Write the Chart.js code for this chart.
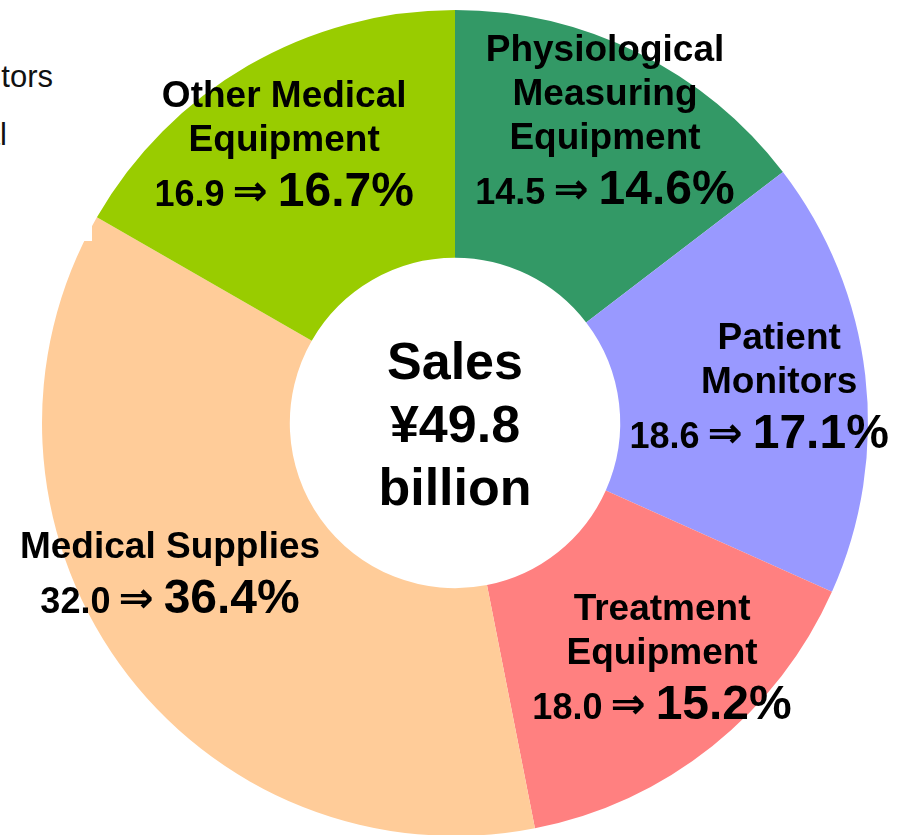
<!DOCTYPE html>
<html>
<head>
<meta charset="utf-8">
<script src="https://cdn.jsdelivr.net/npm/chart.js@4.4.1/dist/chart.umd.min.js"></script>
<style>
  html, body { margin: 0; padding: 0; background: #fff; overflow: hidden; }
  #wrap { position: absolute; left: 0; top: 0; width: 907px; height: 840px; }
  #legend { position: absolute; left: 0; top: 0; width: 92px; height: 241px; background: #fff; overflow: hidden; }
  #legend span { position: absolute; white-space: nowrap; font: 31px "Liberation Sans", Arial, sans-serif; line-height: 30px; color: #111; }
</style>
</head>
<body>
<div id="wrap"><canvas id="salesChart" width="907" height="840"></canvas></div>
<div id="legend"></div>
<script>
// segment names (one entry per text line), clockwise from the top
const categories = [
    ['Physiological', 'Measuring', 'Equipment'],
    ['Patient', 'Monitors'],
    ['Treatment', 'Equipment'],
    ['Medical Supplies'],
    ['Other Medical', 'Equipment']
];
const prevShares = [14.5, 18.6, 18.0, 32.0, 16.9];
const shares = [14.6, 17.1, 15.2, 36.4, 16.7];
const centerLines = ['Sales', '¥49.8', 'billion'];
// only the tails of these legend rows show at the left edge
const legendRows = ['Patient Monitors', 'Physiological'];

const colors = ['#339966', '#9999FF', '#FF8080', '#FFCC99', '#99CC00'];
// label block nudges from each arc's mid point
const labelOffsets = [[22, -44], [37, -4], [27, 7], [-50, -19], [-26, -29]];
const valueShift = [0, -20, 0, 0, 0];

const FONT = '"Liberation Sans", Arial, sans-serif';
const ARROW_FONT = 'bold 42px "DejaVu Sans", sans-serif';

const legendEl = document.getElementById('legend');
const legendRight = [39, 85];
legendRows.forEach(function (txt, i) {
    const s = document.createElement('span');
    s.textContent = txt;
    s.style.right = legendRight[i] + 'px';
    s.style.top = (62 + i * 58) + 'px';
    legendEl.appendChild(s);
});

const segmentLabels = {
    id: 'segmentLabels',
    afterDatasetsDraw(chart) {
        const ctx = chart.ctx;
        const meta = chart.getDatasetMeta(0);
        ctx.save();
        ctx.fillStyle = '#000';
        ctx.textBaseline = 'alphabetic';
        meta.data.forEach(function (arc, i) {
            const p = arc.tooltipPosition();
            const names = categories[i];
            const n = names.length;
            const h = 26 + 44 * (n - 1) + 55;
            const cx = p.x + labelOffsets[i][0];
            const base = p.y + labelOffsets[i][1] - h / 2 + 26;
            ctx.textAlign = 'center';
            ctx.font = 'bold 37px ' + FONT;
            names.forEach(function (t, k) {
                ctx.fillText(t, cx, base + 44 * k);
            });
            const vy = base + 44 * (n - 1) + 55;
            const small = prevShares[i].toFixed(1);
            const big = shares[i].toFixed(1) + '%';
            const arrow = '\u21D2';
            ctx.font = 'bold 36px ' + FONT;
            const ws = ctx.measureText(small).width;
            ctx.font = ARROW_FONT;
            const wa = ctx.measureText(arrow).width;
            ctx.font = 'bold 48px ' + FONT;
            const wb = ctx.measureText(big).width;
            const gap1 = 8, gap2 = 10;
            const total = ws + gap1 + wa + gap2 + wb;
            let x = cx + valueShift[i] - total / 2;
            ctx.textAlign = 'left';
            ctx.font = 'bold 36px ' + FONT;
            ctx.fillText(small, x, vy);
            x += ws + gap1;
            ctx.font = ARROW_FONT;
            ctx.fillText(arrow, x, vy - 1);
            x += wa + gap2;
            ctx.font = 'bold 48px ' + FONT;
            ctx.fillText(big, x, vy);
        });
        // centre text
        const a = meta.data[0];
        ctx.textAlign = 'center';
        ctx.font = 'bold 52px ' + FONT;
        centerLines.forEach(function (t, k) {
            ctx.fillText(t, a.x, a.y + 19 + (k - 1) * 63);
        });
        ctx.restore();
    }
};

document.addEventListener('DOMContentLoaded', function () {
    const ctx = document.getElementById('salesChart').getContext('2d');
    new Chart(ctx, {
        type: 'doughnut',
        data: {
            labels: categories.map(function (c) { return c.join(' '); }),
            datasets: [{
                data: shares,
                backgroundColor: colors,
                borderWidth: 0
            }]
        },
        options: {
            responsive: false,
            animation: false,
            cutout: '40%',
            layout: { padding: { left: 42, right: 39, top: 10, bottom: 4 } },
            plugins: {
                legend: { display: false },
                tooltip: { enabled: false }
            }
        },
        plugins: [segmentLabels]
    });
});
</script>
</body>
</html>
